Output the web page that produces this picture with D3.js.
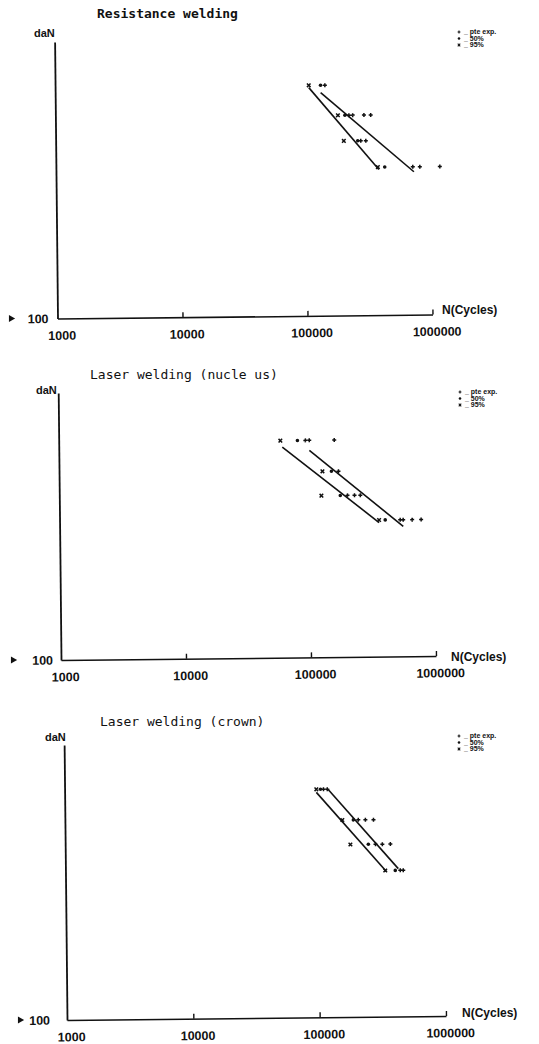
<!DOCTYPE html>
<html>
<head>
<meta charset="utf-8">
<script src="https://cdn.jsdelivr.net/npm/d3@7"></script>
<style>
  body { margin: 0; background: #fff; }
  svg { display: block; }
  .title { font-family: "DejaVu Sans Mono", monospace; font-size: 13px; fill: #111; }
  .lbl { font-family: "Liberation Sans", Arial, sans-serif; font-weight: bold; fill: #111; }
</style>
</head>
<body>
<svg id="chart"></svg>
<script>
const WIDTH = 539, HEIGHT = 1044;
const TILT = -0.6; // the scan is a bit crooked

const titles = ["Resistance welding", "Laser welding (nucle us)", "Laser welding (crown)"];
const xTicks = [1000, 10000, 100000, 1000000];
const legendLabels = ["_ pte exp.", "_ 50%", "_ 95%"];

// [cycles, daN]
// resistance welding
const resExp = [[144000, 682], [223000, 530], [239000, 530], [294000, 530], [333000, 530],
                [276000, 428], [303000, 428], [716000, 343], [815000, 343], [1178000, 343]];
const res50 = [[133000, 682], [207000, 530], [261000, 428], [427000, 343]];
const res95 = [[107000, 682], [182000, 530], [202000, 428], [376000, 343]];
const resLine50 = [[133000, 641], [730000, 329]];
const resLine95 = [[107000, 669], [383000, 336]];

// laser welding, nucleus
const nucExp = [[94000, 650], [101000, 650], [160000, 650], [172000, 497],
                [202000, 403], [230000, 403], [256000, 403],
                [531000, 325], [561000, 325], [662000, 325], [781000, 325]];
const nuc50 = [[81200, 650], [151000, 497], [177000, 403], [403000, 325]];
const nuc95 = [[59300, 650], [128000, 497], [125000, 403], [360000, 325]];
const nucLine50 = [[101000, 596], [561000, 307]];
const nucLine95 = [[61400, 614], [360000, 318]];

// laser welding, crown
const crnExp = [[112000, 675], [120000, 675], [210000, 521], [239000, 521], [277000, 521],
                [286000, 424], [324000, 424], [375000, 424], [447000, 340], [472000, 340]];
const crn50 = [[106000, 675], [192000, 521], [251000, 424], [408000, 340]];
const crn95 = [[98300, 675], [157000, 521], [181000, 424], [340000, 340]];
const crnLine50 = [[122000, 673], [431000, 345]];
const crnLine95 = [[98300, 658], [347000, 337]];

const PANELS = [
  { title: titles[0], exp: resExp, p50: res50, p95: res95, l50: resLine50, l95: resLine95, bold: true,
    x0: 57.5, y0: 318.5, x1: 432.5, top: 42, titleX: 97, titleY: 17.5, danX: 34, danY: 37,
    legX: 459, legY: 32, ncX: 442, ncY: 314, gap100: 9, triX: 11 },
  { title: titles[1], exp: nucExp, p50: nuc50, p95: nuc95, l50: nucLine50, l95: nucLine95, bold: false,
    x0: 61, y0: 660, x1: 436, top: 393, titleX: 90, titleY: 379, danX: 36, danY: 394,
    legX: 460, legY: 392, ncX: 451, ncY: 661, gap100: 8, triX: 13 },
  { title: titles[2], exp: crnExp, p50: crn50, p95: crn95, l50: crnLine50, l95: crnLine95, bold: false,
    x0: 67, y0: 1020, x1: 446, top: 745, titleX: 100, titleY: 726, danX: 45, danY: 741,
    legX: 459, legY: 736, ncX: 462, ncY: 1017, gap100: 17, triX: 20 }
];

const svg = d3.select("#chart").attr("width", WIDTH).attr("height", HEIGHT);

const plus = () => `M-2,0H2M0,-2V2`;
const cross = () => `M-1.8,-1.8L1.8,1.8M-1.8,1.8L1.8,-1.8`;

function drawMarker(sel, kind) {
  if (kind === 1) {
    sel.append("circle").attr("r", 1.8).attr("fill", "#111");
  } else {
    sel.append("path").attr("d", kind === 0 ? plus() : cross())
      .attr("stroke", "#111").attr("stroke-width", 1.5).attr("fill", "none");
  }
}

PANELS.forEach(p => {
  const x = d3.scaleLog().domain([1000, 1000000]).range([p.x0, p.x1]);
  const y = d3.scaleLog().domain([100, 1000]).range([p.y0, p.top]);

  svg.append("text").attr("class", "title")
    .attr("x", p.titleX).attr("y", p.titleY)
    .attr("font-weight", p.bold ? "bold" : "normal")
    .text(p.title);

  svg.append("text").attr("class", "lbl").attr("font-size", 11)
    .attr("x", p.danX).attr("y", p.danY).text("daN");

  svg.append("text").attr("class", "lbl").attr("font-size", 12)
    .attr("x", p.ncX).attr("y", p.ncY).text("N(Cycles)");

  // little arrow in front of 100
  svg.append("path")
    .attr("d", d3.symbol().type(d3.symbolTriangle).size(22)())
    .attr("transform", `translate(${p.triX},${p.y0}) rotate(90)`)
    .attr("fill", "#111");

  const g = svg.append("g").attr("transform", `rotate(${TILT},${p.x0},${p.y0})`);

  const xAxis = g.append("g")
    .attr("transform", `translate(0,${p.y0})`)
    .call(d3.axisBottom(x).tickValues(xTicks).tickFormat(d3.format("d"))
      .tickSizeInner(-5).tickSizeOuter(0).tickPadding(12.5));
  xAxis.select(".domain").attr("stroke", "#111").attr("stroke-width", 1.6);
  xAxis.selectAll(".tick line").attr("stroke", "#111").attr("stroke-width", 1.4);
  xAxis.selectAll(".tick").filter(d => d === 1000).select("line").remove();
  xAxis.selectAll(".tick text").attr("class", "lbl").attr("font-size", 12.5).attr("dx", 4);

  const yAxis = g.append("g")
    .attr("transform", `translate(${p.x0},0)`)
    .call(d3.axisLeft(y).tickValues([100]).tickFormat(d3.format("d"))
      .tickSize(0).tickPadding(p.gap100));
  yAxis.select(".domain").attr("stroke", "#111").attr("stroke-width", 1.8);
  yAxis.selectAll(".tick text").attr("class", "lbl").attr("font-size", 12.5);

  const line = d3.line().x(d => x(d[0])).y(d => y(d[1]));
  [p.l95, p.l50].forEach(l => {
    g.append("path").datum(l).attr("d", line)
      .attr("fill", "none").attr("stroke", "#111").attr("stroke-width", 1.6);
  });

  [p.exp, p.p50, p.p95].forEach((pts, k) => {
    g.selectAll(null).data(pts).enter().append("g")
      .attr("transform", d => `translate(${x(d[0])},${y(d[1])})`)
      .each(function() { drawMarker(d3.select(this), k); });
  });

  // legend
  const leg = svg.append("g").attr("transform", `translate(${p.legX},${p.legY})`);
  legendLabels.forEach((t, i) => {
    const row = leg.append("g").attr("transform", `translate(0,${i * 6.5})`);
    const m = row.append("g").attr("transform", "scale(0.7)");
    drawMarker(m, i);
    row.append("text").attr("class", "lbl").attr("font-size", 7)
      .attr("x", 5).attr("y", 2.3).text(t);
  });
});
</script>
</body>
</html>
